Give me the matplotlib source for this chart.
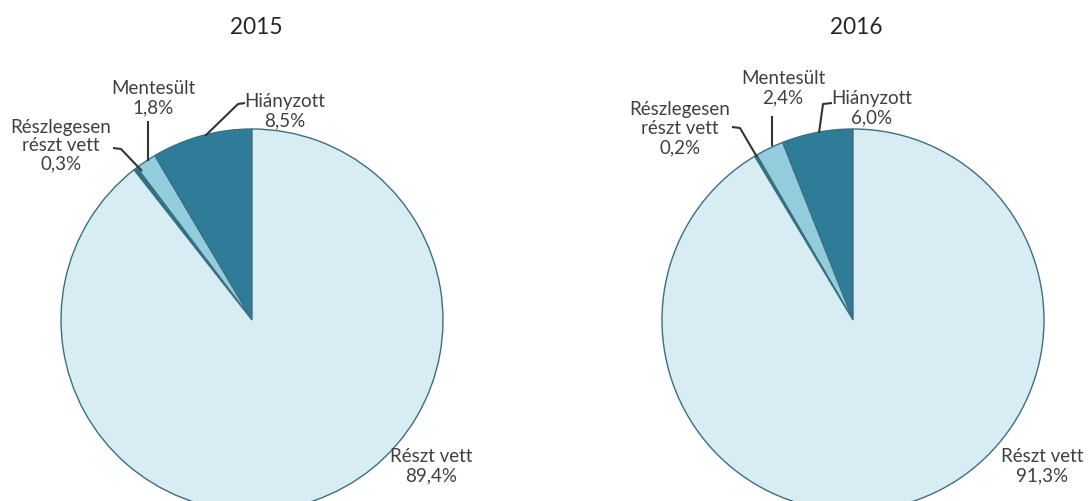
import matplotlib
matplotlib.use("Agg")
import matplotlib.pyplot as plt
from matplotlib.textpath import TextPath
from matplotlib.font_manager import FontProperties

W, H = 1088, 501

years = ["2015", "2016"]
categories = ["Hiányzott", "Mentesült", "Részlegesen\nrészt vett", "Részt vett"]
values_2015 = [8.5, 1.8, 0.3, 89.4]
values_2016 = [6.0, 2.4, 0.2, 91.3]
labels_2015 = ["8,5%", "1,8%", "0,3%", "89,4%"]
labels_2016 = ["6,0%", "2,4%", "0,2%", "91,3%"]

colors = ["#2F7C98", "#93CCDC", "#2D6F84", "#D7ECF3"]
edge = "#3C6F80"
txt = "#404040"
font = "Lato"


def size_for(s, target_px):
    w = TextPath((0, 0), s, size=10, prop=FontProperties(family=font)).get_extents().width
    return 10 * target_px / (w * 100 / 72)


fs = size_for("Részlegesen", 98)
fs_title = size_for("2015", 50)

fig = plt.figure(figsize=(W / 100, H / 100), dpi=100)
ax = fig.add_axes([0, 0, 1, 1])


def Y(y):
    return H - y


centers = [(252, 320), (853, 320)]
radius = 191

for (cx, cy), vals in zip(centers, [values_2015, values_2016]):
    ax.pie(vals, colors=colors, startangle=90, counterclock=True,
           center=(cx, Y(cy)), radius=radius,
           wedgeprops=dict(edgecolor=edge, linewidth=1.0))

ax.set_xlim(0, W)
ax.set_ylim(0, H)
ax.set_aspect("equal")
ax.axis("off")

# titles
title_pos = [256, 856]
for x, yr in zip(title_pos, years):
    ax.text(x, Y(27), yr, ha="center", va="center", fontsize=fs_title,
            color="#262626", family=font)


def lab(x, y0, s, step=19.5):
    for i, part in enumerate(s.split("\n")):
        ax.text(x, Y(y0 + i * step), part, ha="center", va="center",
                fontsize=fs, color=txt, family=font)


def line(pts):
    xs = [p[0] for p in pts]
    ys = [Y(p[1]) for p in pts]
    ax.plot(xs, ys, color="#333333", lw=1.5, solid_capstyle="butt")


# 2015 labels
lab(285, 101, f"{categories[0]}\n{labels_2015[0]}")
lab(153, 88, f"{categories[1]}\n{labels_2015[1]}")
lab(61, 127, f"{categories[2]}\n{labels_2015[2]}", step=18.5)
lab(431, 456, f"{categories[3]}\n{labels_2015[3]}")
line([(245, 103), (238, 104), (205, 136)])
line([(148, 121), (148, 161)])
line([(113, 148), (121, 149), (142, 171)])

# 2016 labels
lab(872, 98, f"{categories[0]}\n{labels_2016[0]}")
lab(783, 78, f"{categories[1]}\n{labels_2016[1]}")
lab(680, 109, f"{categories[2]}\n{labels_2016[2]}")
lab(1042, 456, f"{categories[3]}\n{labels_2016[3]}")
line([(832, 103), (823, 104), (819, 133)])
line([(772, 116), (772, 146)])
line([(732, 127), (740, 128), (757, 157)])

fig.savefig("out.png", dpi=100, facecolor="white")
